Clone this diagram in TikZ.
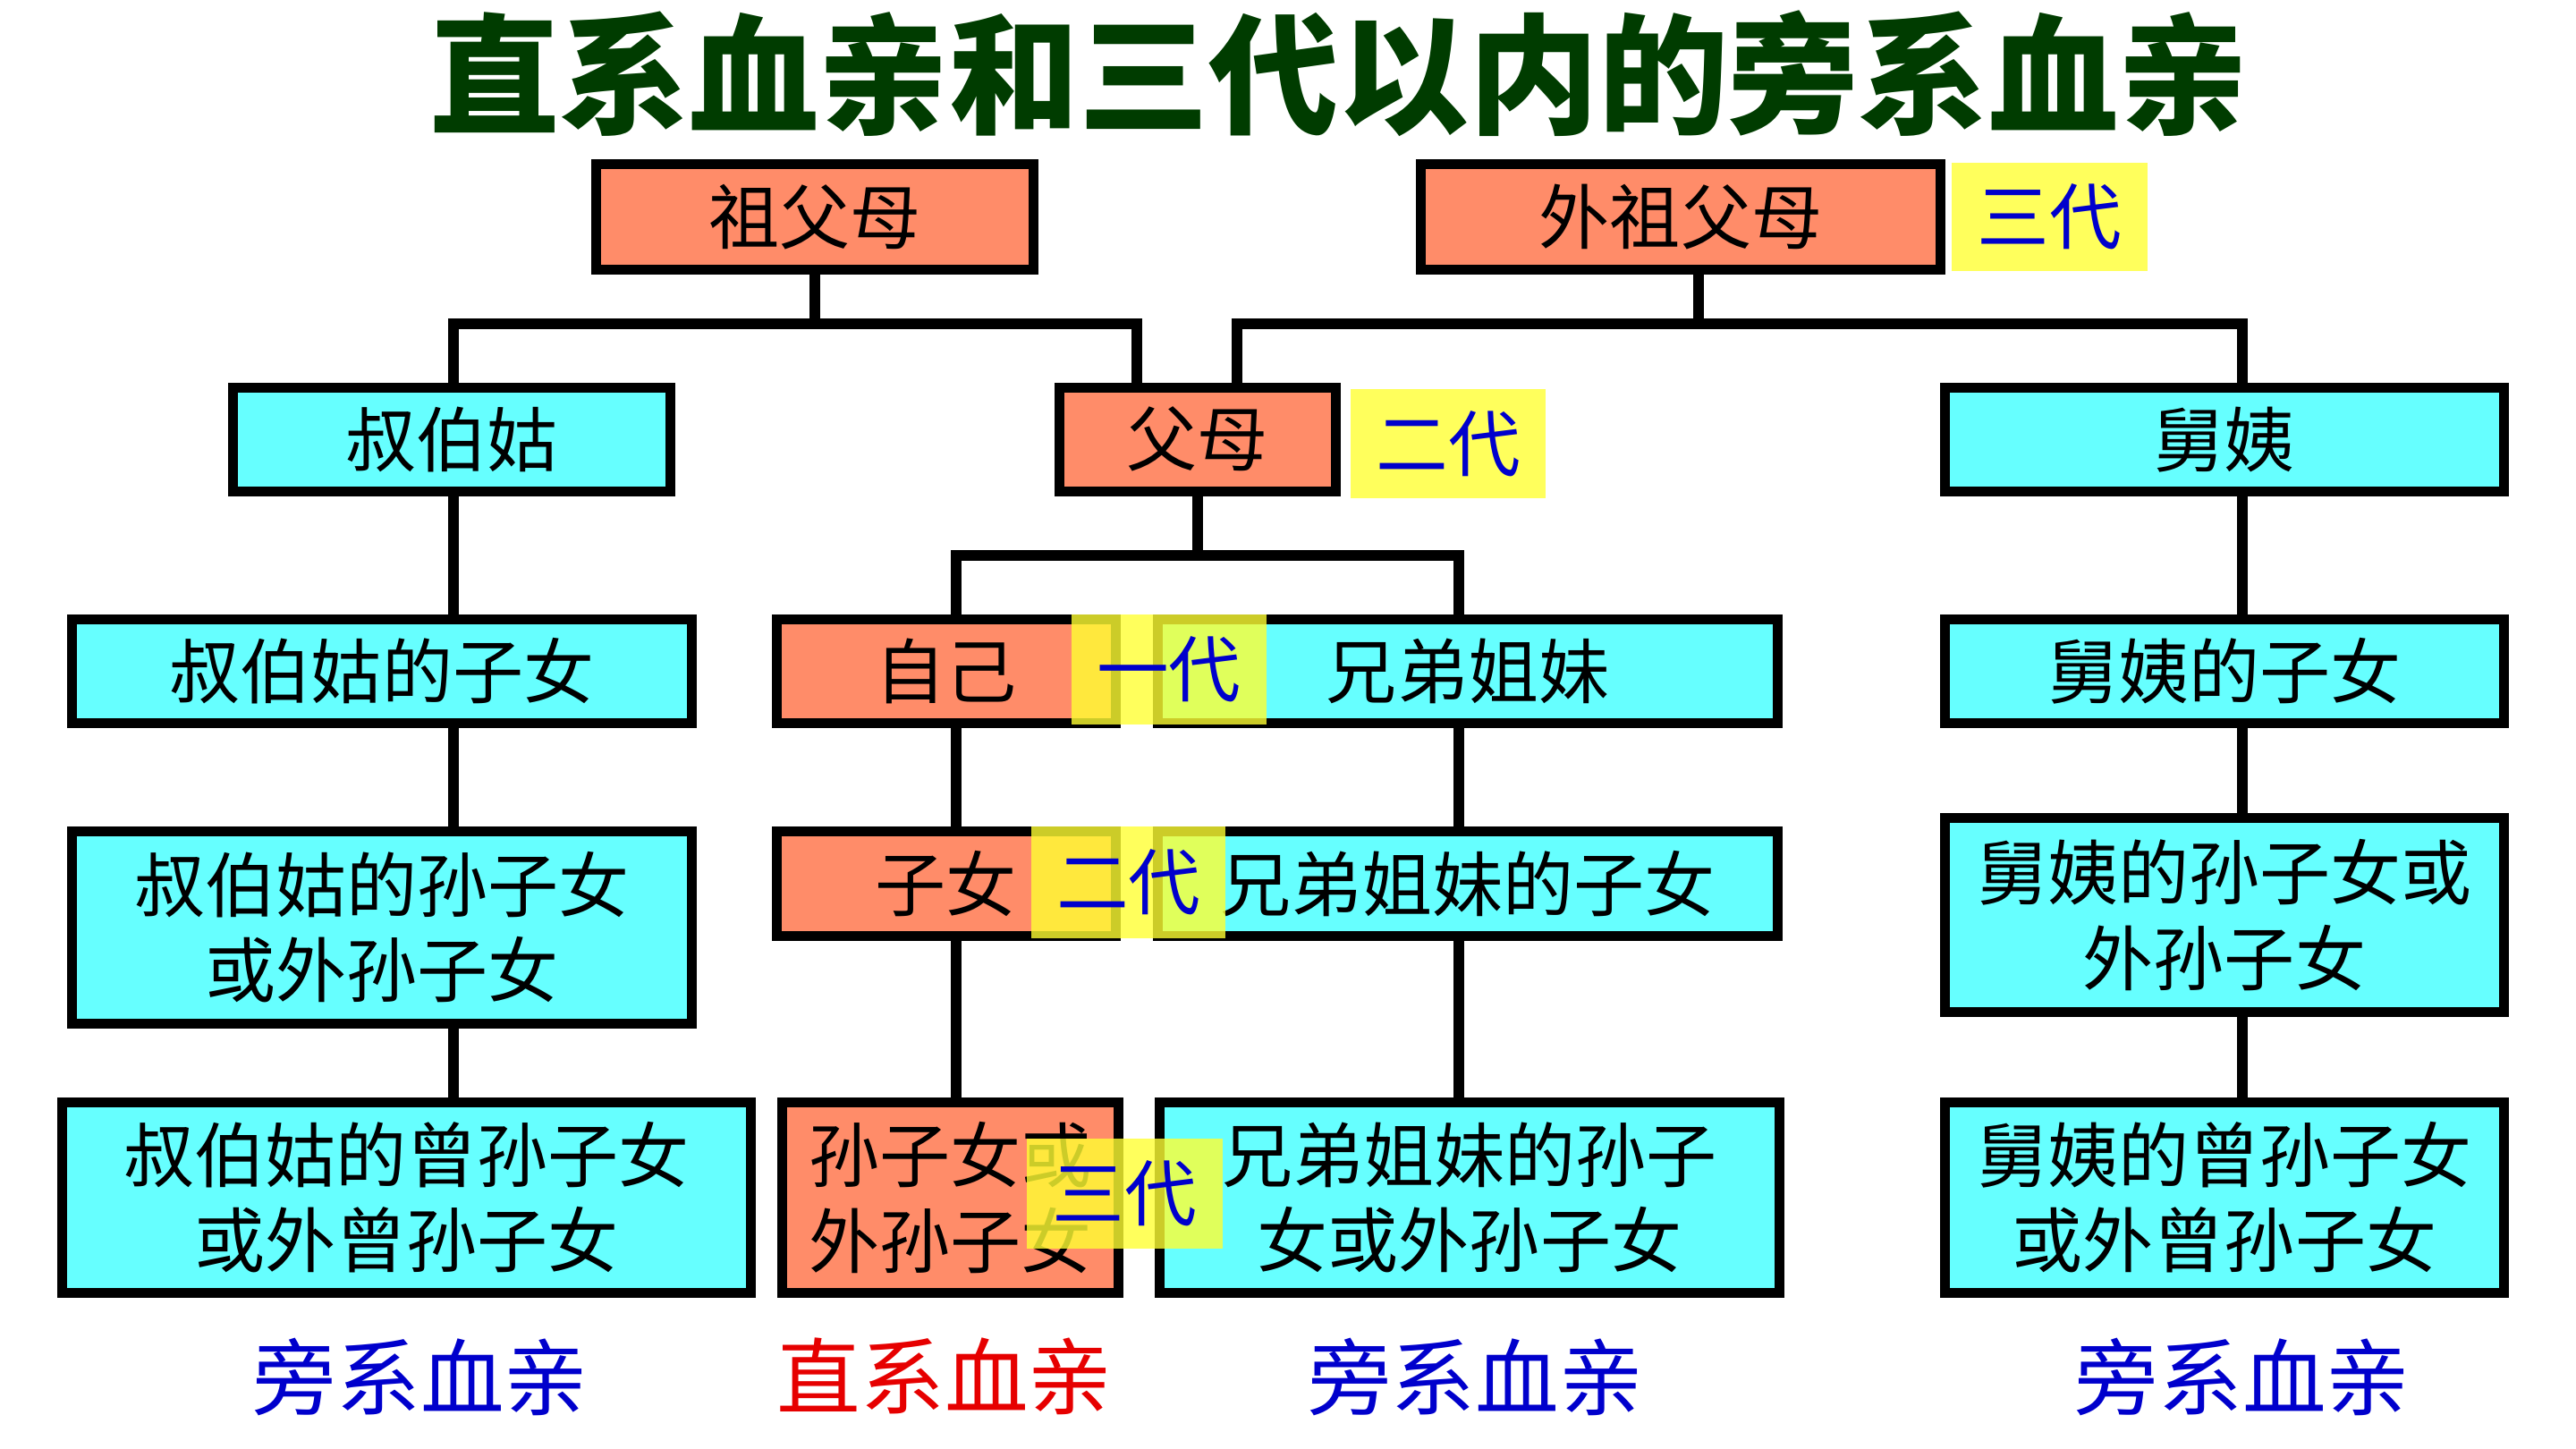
\documentclass[tikz,border=0pt]{standalone}
\usepackage{fontspec}
\setmainfont{Noto Sans CJK SC}
\usepackage{tikz}

\definecolor{salmon}{RGB}{255,140,105}
\definecolor{aqua}{RGB}{102,255,255}
\definecolor{mark}{RGB}{255,255,51}
\definecolor{ink}{RGB}{0,0,204}
\definecolor{kinred}{RGB}{230,0,0}
\definecolor{titlegreen}{RGB}{0,60,0}

\begin{document}
\begin{tikzpicture}[x=0.2mm,y=-0.2mm,
  box/.style={draw=black,line width=1.2mm,inner sep=0pt,align=center,
              font=\fontsize{24.5}{29.5}\selectfont},
  direct/.style={box,fill=salmon},
  side/.style={box,fill=aqua},
  sz/.style 2 args={minimum width=#1*0.2mm,minimum height=#2*0.2mm},
  gen/.style={fill=mark,fill opacity=0.8,text opacity=1,text=ink,inner sep=0pt,
              font=\fontsize{25}{30}\selectfont},
  kin/.style={font=\fontsize{29}{34}\selectfont},
  link/.style={line width=1.3mm}]
\useasboundingbox (0,0) rectangle (1568,882);

\node[font=\fontsize{45}{50}\selectfont\bfseries,text=titlegreen] (title) at (815,45) {直系血亲和三代以内的旁系血亲};

% relatives
\node[direct,sz={266}{64}] (gp) at (496,132) {祖父母};
\node[direct,sz={316}{64}] (mgp) at (1023,132) {外祖父母};
\node[side,sz={266}{63}] (ub) at (275,267.5) {叔伯姑};
\node[direct,sz={168}{63}] (par) at (729,267.5) {父母};
\node[side,sz={340}{63}] (my) at (1354,267.5) {舅姨};
\node[side,sz={377}{63}] (ubc) at (232.5,408.5) {叔伯姑的子女};
\node[direct,sz={206}{63}] (self) at (576,408.5) {自己};
\node[side,sz={377}{63}] (sib) at (893.5,408.5) {兄弟姐妹};
\node[side,sz={340}{63}] (myc) at (1354,408.5) {舅姨的子女};
\node[side,sz={377}{117}] (ubg) at (232.5,564.5) {叔伯姑的孙子女\\或外孙子女};
\node[direct,sz={206}{64}] (kid) at (576,538) {子女};
\node[side,sz={377}{64}] (sibc) at (893.5,538) {兄弟姐妹的子女};
\node[side,sz={340}{118}] (myg) at (1354,557) {舅姨的孙子女或\\外孙子女};
\node[side,sz={419}{116}] (ubgg) at (247.5,729) {叔伯姑的曾孙子女\\或外曾孙子女};
\node[direct,sz={205}{116}] (gkid) at (578.5,729) {孙子女或\\外孙子女};
\node[side,sz={377}{116}] (sibg) at (894.5,729) {兄弟姐妹的孙子\\女或外孙子女};
\node[side,sz={340}{116}] (mygg) at (1354,729) {舅姨的曾孙子女\\或外曾孙子女};

% where the lines run
\coordinate (busA) at (0,197);
\coordinate (busB) at (0,338);
\coordinate (xL) at (276,0);
\coordinate (xP1) at (692,0);
\coordinate (xP2) at (753,0);
\coordinate (xM) at (1034,0);
\coordinate (xR) at (1365,0);
\coordinate (xS) at (582,0);
\coordinate (xB) at (888,0);

\draw[link] (gp.south) -- (gp.south |- busA);
\draw[link] (ub.north -| xL) |- (busA -| xP1) -- (par.north -| xP1);
\draw[link] (mgp.south -| xM) -- (busA -| xM);
\draw[link] (par.north -| xP2) |- (busA -| xR) -- (my.north -| xR);
\draw[link] (par.south) -- (par.south |- busB);
\draw[link] (self.north -| xS) |- (busB -| xB) -- (sib.north -| xB);
\foreach \a/\b/\x in {ub/ubc/xL, ubc/ubg/xL, ubg/ubgg/xL, self/kid/xS, kid/gkid/xS,
                      sib/sibc/xB, sibc/sibg/xB, my/myc/xR, myc/myg/xR, myg/mygg/xR}
  \draw[link] (\a.south -| \x) -- (\b.north -| \x);

% generations
\node[gen,sz={119}{66}] (g3) at (1247.5,132) {三代};
\node[gen,sz={119}{66}] (g2) at (881.5,270) {二代};
\node[gen,sz={119}{67}] (g1) at (711.5,407.5) {一代};
\node[gen,sz={118}{68}] (g2b) at (687,537) {二代};
\node[gen,sz={119}{67}] (g3b) at (684.5,726.5) {三代};

% kinds of kin
\node[kin,text=ink] (k1) at (256,838) {旁系血亲};
\node[kin,text=kinred] (k2) at (575,838) {直系血亲};
\node[kin,text=ink] (k3) at (898,838) {旁系血亲};
\node[kin,text=ink] (k4) at (1365,838) {旁系血亲};
\end{tikzpicture}
\end{document}
